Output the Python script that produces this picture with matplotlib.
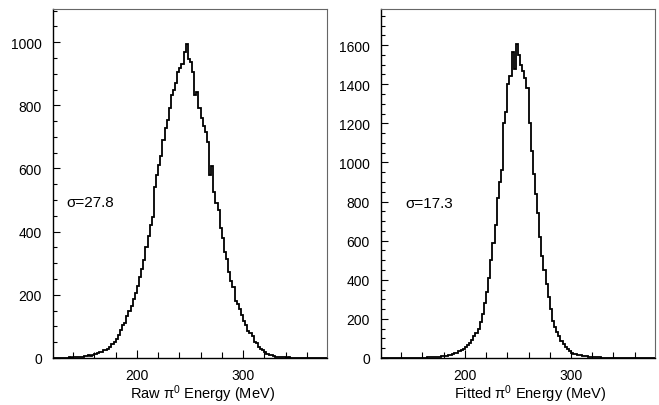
import numpy as np
import matplotlib
matplotlib.use("Agg")
import matplotlib.pyplot as plt
from matplotlib.ticker import MultipleLocator

plt.rcParams['font.family'] = ['Liberation Sans', 'DejaVu Sans']
plt.rcParams['mathtext.fontset'] = 'custom'
plt.rcParams['mathtext.rm'] = 'Liberation Sans'
plt.rcParams['mathtext.it'] = 'Liberation Sans:italic'

# ============================================================
# Histogram data (2 MeV bins from 120 to 380 MeV)
# ============================================================
bin_lo, bin_hi, bin_w = 120, 380, 2

raw_counts = [
    0, 0, 0, 0, 1, 0, 1, 1, 2, 1,                    # 120-140
    2, 3, 2, 4, 3, 5, 6, 8, 7, 11,                   # 140-160
    13, 17, 20, 18, 24, 26, 30, 35, 44, 52,          # 160-180
    60, 72, 88, 104, 112, 134, 148, 165, 188, 205,   # 180-200
    228, 256, 282, 310, 350, 385, 420, 446, 540, 580,  # 200-220
    612, 640, 690, 728, 755, 790, 832, 850, 870, 905,  # 220-240
    918, 932, 968, 995, 948, 937, 905, 832, 842, 790,  # 240-260
    760, 735, 715, 684, 580, 608, 527, 490, 470, 410,  # 260-280
    380, 336, 312, 272, 245, 226, 180, 170, 156, 136,  # 280-300
    118, 104, 84, 80, 70, 52, 48, 36, 30, 24,        # 300-320
    20, 14, 10, 8, 5, 4, 3, 4, 2, 2,                 # 320-340
    1, 2, 1, 1, 1, 1, 0, 1, 0, 1,                    # 340-360
    0, 1, 0, 0, 0, 0, 0, 1, 0, 0,                    # 360-380
]

fit_counts = [
    0, 0, 0, 0, 0, 0, 0, 0, 0, 0,                    # 120-140
    0, 0, 0, 1, 0, 0, 1, 1, 1, 2,                    # 140-160
    2, 2, 3, 3, 4, 5, 4, 6, 6, 8,                    # 160-180
    10, 12, 14, 17, 20, 24, 28, 34, 40, 47,          # 180-200
    54, 64, 78, 94, 115, 130, 150, 185, 225, 280,    # 200-220
    340, 410, 500, 590, 680, 820, 900, 960, 1200, 1260,   # 220-240
    1400, 1440, 1565, 1480, 1605, 1550, 1500, 1470, 1430, 1380,  # 240-260
    1200, 1060, 940, 840, 740, 620, 520, 450, 380, 310,   # 260-280
    250, 190, 160, 135, 110, 88, 72, 56, 45, 38,     # 280-300
    28, 22, 20, 16, 13, 10, 12, 8, 6, 5,             # 300-320
    4, 4, 3, 3, 2, 2, 1, 2, 1, 1,                    # 320-340
    1, 0, 1, 0, 0, 1, 0, 0, 1, 0,                    # 340-360
    0, 0, 1, 0, 0, 0, 0, 0, 0, 0,                    # 360-380
]

panels = [
    {"counts": raw_counts, "xlabel": "Raw π$^{0}$ Energy (MeV)",
     "sigma": "σ=27.8", "ymax": 1105, "sig_pos": (134, 495)},
    {"counts": fit_counts, "xlabel": "Fitted π$^{0}$ Energy (MeV)",
     "sigma": "σ=17.3", "ymax": 1785, "sig_pos": (144, 793)},
]

edges = np.arange(bin_lo, bin_hi + bin_w, bin_w)

fig = plt.figure(figsize=(6.59, 4.06), dpi=100)
axes = [fig.add_axes([0.0804, 0.1158, 0.4158, 0.8596]),
        fig.add_axes([0.578, 0.1158, 0.4158, 0.8596])]

for ax, p in zip(axes, panels):
    ax.stairs(p["counts"], edges, color="black", linewidth=1.3)
    ax.set_xlim(121, 379)
    ax.set_ylim(0, p["ymax"])

    ax.xaxis.set_major_locator(MultipleLocator(100))
    ax.xaxis.set_minor_locator(MultipleLocator(20))
    ax.yaxis.set_major_locator(MultipleLocator(200))
    ax.yaxis.set_minor_locator(MultipleLocator(50))
    ax.tick_params(which="both", direction="in", top=False, right=False,
                   labelsize=10, width=0.8)
    ax.tick_params(axis="y", which="major", length=5, pad=8)
    ax.tick_params(axis="y", which="minor", length=3)
    ax.tick_params(axis="x", which="major", length=6, pad=7)
    ax.tick_params(axis="x", which="minor", length=4)

    for side in ("left", "bottom"):
        ax.spines[side].set_color("black")
        ax.spines[side].set_linewidth(1.0)
    for side in ("top", "right"):
        ax.spines[side].set_color("#666666")
        ax.spines[side].set_linewidth(0.8)

    ax.set_xlabel(p["xlabel"], fontsize=10.5)
    ax.xaxis.set_label_coords(0.545, -0.07)
    ax.text(p["sig_pos"][0], p["sig_pos"][1], p["sigma"], fontsize=11,
            ha="left", va="center")

fig.savefig("out.png", dpi=100)
